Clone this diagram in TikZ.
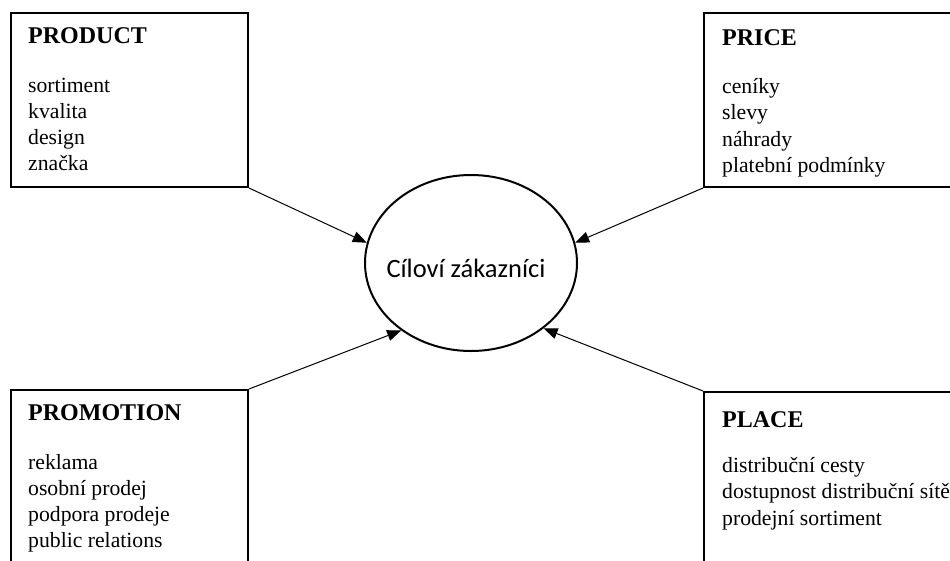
\documentclass[tikz,border=0pt]{standalone}
\usepackage{fontspec}
\setmainfont{Liberation Serif}
\newfontfamily\calib{Carlito}
\usetikzlibrary{shapes.geometric,arrows.meta}
\begin{document}
\begin{tikzpicture}[x=1pt,y=-1pt,
  box/.style={draw,line width=2pt,minimum width=237pt,minimum height=174pt,anchor=north west,inner sep=0pt},
  head/.style={anchor=base west,font=\fontsize{24}{28}\selectfont\bfseries,inner sep=0pt},
  item/.style={anchor=base west,font=\fontsize{21.7}{26}\selectfont,inner sep=0pt},
  conn/.style={-{Triangle[length=14pt,width=11pt]},line width=1pt}]
\path[use as bounding box, clip] (0,0) rectangle (950,560);
% boxes
\node[box] (prod) at (10,12) {};
\node[box,minimum width=270pt] (price) at (703,12) {};
\node[box,minimum height=200pt] (promo) at (10,389) {};
\node[box,minimum width=270pt,minimum height=200pt] (place) at (703,391) {};
% PRODUCT
\node[head] (prodh) at (28,43) {PRODUCT};
\node[item] (prod1) at (28,92) {sortiment};
\node[item] (prod2) at (28,118) {kvalita};
\node[item] (prod3) at (28,144) {design};
\node[item] (prod4) at (28,170) {značka};
% PRICE
\node[head] (priceh) at (722,45) {PRICE};
\node[item] (price1) at (722,93) {ceníky};
\node[item] (price2) at (722,119) {slevy};
\node[item] (price3) at (722,146) {náhrady};
\node[item] (price4) at (722,172) {platební podmínky};
% PROMOTION
\node[head] (promoh) at (28,420) {PROMOTION};
\node[item] (promo1) at (28,469) {reklama};
\node[item] (promo2) at (28,495) {osobní prodej};
\node[item] (promo3) at (28,521) {podpora prodeje};
\node[item] (promo4) at (28,547) {public relations};
% PLACE
\node[head] (placeh) at (722,427) {PLACE};
\node[item] (place1) at (722,472) {distribuční cesty};
\node[item] (place2) at (722,498) {dostupnost distribuční sítě};
\node[item] (place3) at (722,525) {prodejní sortiment};
% centre
\node[ellipse,draw,line width=2pt,minimum width=212pt,minimum height=176pt,inner sep=0pt] (cust) at (471,263) {};
\node[anchor=base,inner sep=0pt,font=\calib\fontsize{26.5}{30}\selectfont] (custt) at (466,277) {Cíloví zákazníci};
% connectors
\draw[conn] (prod.south east) -- (cust.169);
\draw[conn] (price.south west) -- (cust.11);
\draw[conn] (promo.north east) -- (cust.224);
\draw[conn] (place.north west) -- (cust.318);
\end{tikzpicture}
\end{document}
